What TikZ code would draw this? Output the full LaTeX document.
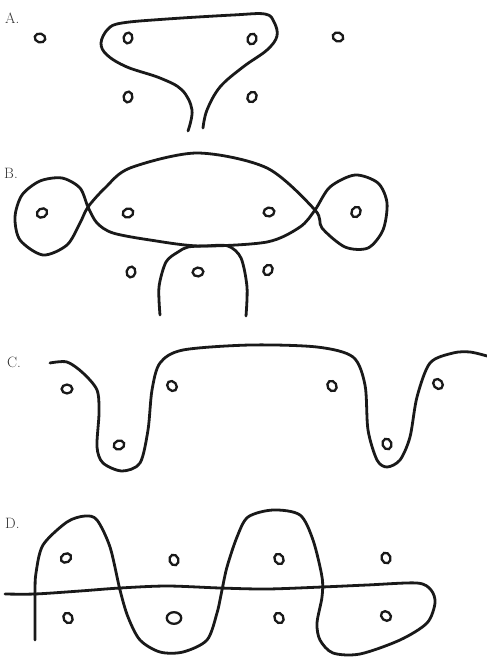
\documentclass[tikz,border=0pt]{standalone}
\begin{document}
\begin{tikzpicture}[x=1pt,y=-1pt,
  curve/.style={line width=2.8pt,line cap=round,line join=round,black!90},
  dot/.style={line width=2.3pt,black!90},
  lbl/.style={anchor=west,inner sep=0pt,font=\fontsize{15}{15}\selectfont,text=black!80}]
\useasboundingbox (0,0) rectangle (487,657);
% ---------- A ----------
\node[lbl] (la) at (5,18) {A.};
\foreach \x/\y/\r in {40/38/-15,128/38/80,252/39/70,338/37/-20,128/97/80,252/97/60}
  \draw[dot,rotate around={\r:(\x,\y)}] (\x,\y) ellipse (5.4 and 4.4);
\draw[curve] plot[smooth,tension=0.6] coordinates {(188,131) (192,110) (182,90) (160,78) (127,67) (107,55) (101,43) (108,29) (122,23) (167,19) (233,15) (265,14) (274,22) (277,36) (267,50) (243,67) (220,87) (207,110) (203,128)};
% ---------- B ----------
\node[lbl] (lb) at (4,173) {B.};
\foreach \x/\y/\r in {42/213/30,128/213/20,269/212/10,356/212/60,131/272/80,198/272/5,268/270/60}
  \draw[dot,rotate around={\r:(\x,\y)}] (\x,\y) ellipse (5.4 and 4.4);
\draw[curve] plot[smooth cycle,tension=0.5] coordinates {(197,153) (267,168) (315,210) (322,228) (345,247) (368,248) (383,230) (387,203) (378,183) (355,175) (330,187) (315,210) (300,227) (267,242) (200,246) (150,240) (113,233) (97,223) (88,207) (80,188) (62,178) (40,181) (22,195) (15,217) (20,240) (43,255) (67,245) (80,223) (88,207) (105,188) (130,168)};
\draw[curve] plot[smooth,tension=0.5] coordinates {(160,315) (159,287) (166,262) (178,252) (188,247) (205,246) (228,246) (241,258) (247,287) (246,316)};
% ---------- C ----------
\node[lbl] (lc) at (7,362) {C.};
\foreach \x/\y/\r in {67/389/0,172/386/-50,332/386/-60,438/384/-50,119/445/20,387/444/-70}
  \draw[dot,rotate around={\r:(\x,\y)}] (\x,\y) ellipse (5.4 and 4.4);
\draw[curve] plot[smooth,tension=0.5] coordinates {(50,363) (67,362) (83,373) (97,390) (99,413) (97,447) (103,463) (122,471) (140,463) (148,430) (152,390) (160,363) (183,350) (250,345) (317,347) (353,357) (365,385) (368,430) (377,460) (387,467) (400,460) (410,437) (417,397) (430,363) (453,353) (470,352) (487,356)};
% ---------- D ----------
\node[lbl] (ld) at (5,523) {D.};
\foreach \x/\y/\r in {66/558/30,174/560/-70,279/559/-60,386/558/-70,68/618/-60,279/618/-60,386/616/-40}
  \draw[dot,rotate around={\r:(\x,\y)}] (\x,\y) ellipse (5.4 and 4.4);
\draw[dot] (174,618) ellipse (7.2 and 5.8);
\draw[curve] plot[smooth,tension=0.5] coordinates {(5,594) (35,594) (80,591) (120,588) (167,586) (220,588) (267,589) (322,587) (367,585) (417,583) (431,590) (435,603) (427,623) (400,640) (360,654) (333,653) (320,640) (317,623) (322,597) (322,577) (313,540) (300,515) (273,510) (248,517) (237,537) (227,567) (222,590) (217,613) (207,640) (183,652) (160,652) (140,640) (128,617) (120,590) (110,547) (97,520) (85,516) (67,522) (43,545) (36,573) (35,593) (35,640)};
\end{tikzpicture}
\end{document}
